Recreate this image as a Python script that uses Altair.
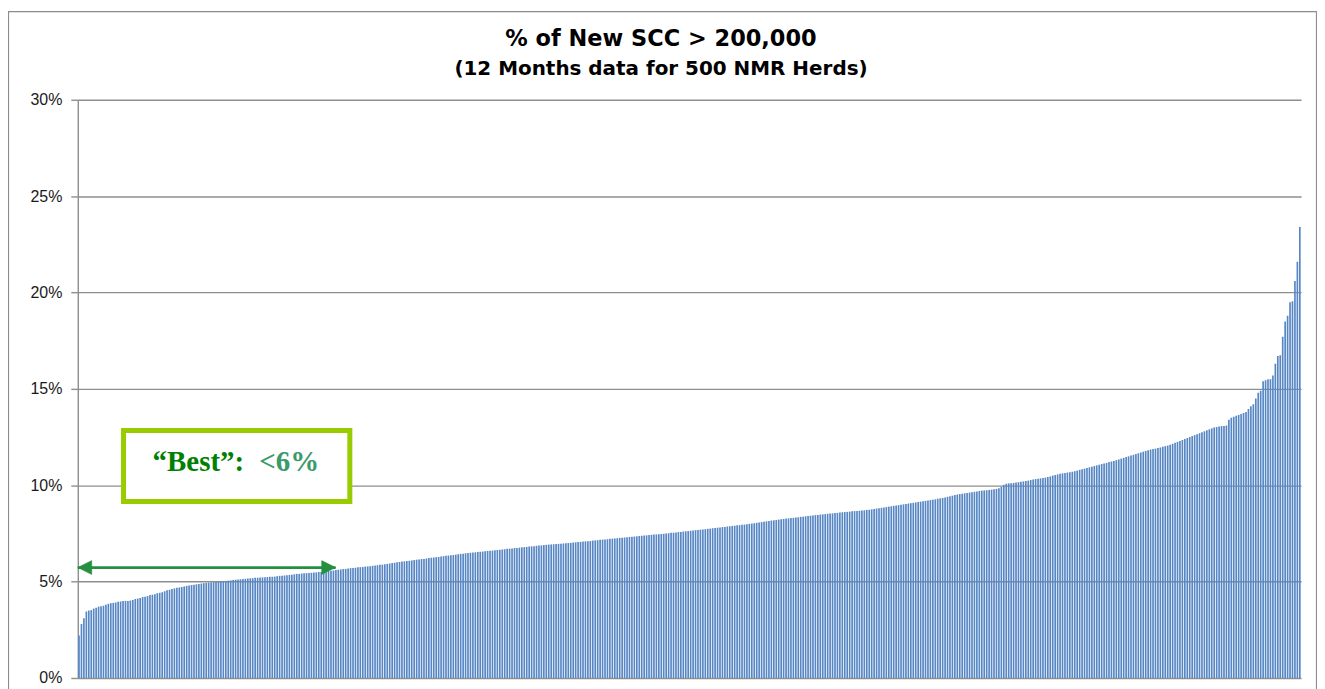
import altair as alt
import pandas as pd

TITLE = "% of New SCC > 200,000"
SUBTITLE = "(12 Months  data for 500 NMR Herds)"
Y_TICKS = [0, 5, 10, 15, 20, 25, 30]
BEST_LABEL = "\u201cBest\u201d:"
BEST_VALUE = "<6%"

# % of new SCC > 200,000 for 500 herds, sorted ascending
PCT_NEW_SCC = [
    2.2, 2.8, 3.1, 3.45, 3.5, 3.52, 3.6, 3.65, 3.7, 3.72, 3.75, 3.8, 3.85, 3.88, 3.9, 3.92, 3.95, 3.97, 4.0, 4.0,
    4.0, 4.02, 4.05, 4.1, 4.12, 4.15, 4.2, 4.22, 4.25, 4.3, 4.32, 4.35, 4.4, 4.42, 4.45, 4.5, 4.55, 4.58, 4.62, 4.65,
    4.68, 4.7, 4.72, 4.75, 4.78, 4.8, 4.82, 4.84, 4.86, 4.88, 4.9, 4.92, 4.93, 4.95, 4.96, 4.97, 4.98, 5.0, 5.0, 5.02,
    5.03, 5.05, 5.06, 5.08, 5.1, 5.11, 5.12, 5.14, 5.15, 5.16, 5.17, 5.18, 5.2, 5.2, 5.21, 5.22, 5.23, 5.24, 5.25, 5.25,
    5.26, 5.28, 5.3, 5.3, 5.32, 5.33, 5.35, 5.36, 5.38, 5.4, 5.4, 5.42, 5.43, 5.44, 5.45, 5.46, 5.47, 5.48, 5.5, 5.5,
    5.52, 5.54, 5.55, 5.57, 5.58, 5.6, 5.62, 5.63, 5.65, 5.66, 5.68, 5.7, 5.71, 5.72, 5.74, 5.75, 5.76, 5.78, 5.79, 5.8,
    5.82, 5.84, 5.85, 5.87, 5.88, 5.9, 5.92, 5.94, 5.96, 5.98, 6.0, 6.02, 6.04, 6.05, 6.07, 6.08, 6.1, 6.12, 6.14, 6.15,
    6.17, 6.18, 6.2, 6.22, 6.24, 6.25, 6.27, 6.28, 6.3, 6.32, 6.34, 6.35, 6.37, 6.38, 6.4, 6.42, 6.44, 6.45, 6.47, 6.48,
    6.5, 6.51, 6.52, 6.54, 6.55, 6.56, 6.58, 6.59, 6.6, 6.61, 6.63, 6.64, 6.65, 6.67, 6.68, 6.7, 6.71, 6.72, 6.74, 6.75,
    6.76, 6.78, 6.79, 6.8, 6.82, 6.83, 6.84, 6.86, 6.87, 6.88, 6.9, 6.91, 6.92, 6.93, 6.94, 6.95, 6.96, 6.97, 6.98, 6.99,
    7.0, 7.01, 7.03, 7.04, 7.05, 7.06, 7.08, 7.09, 7.1, 7.11, 7.13, 7.14, 7.15, 7.17, 7.18, 7.19, 7.2, 7.22, 7.23, 7.24,
    7.25, 7.27, 7.28, 7.29, 7.3, 7.32, 7.33, 7.34, 7.35, 7.37, 7.38, 7.39, 7.4, 7.42, 7.43, 7.44, 7.45, 7.46, 7.47, 7.48,
    7.5, 7.51, 7.53, 7.54, 7.55, 7.57, 7.58, 7.6, 7.61, 7.62, 7.64, 7.65, 7.67, 7.68, 7.7, 7.71, 7.72, 7.74, 7.75, 7.77,
    7.78, 7.8, 7.81, 7.83, 7.84, 7.86, 7.87, 7.89, 7.9, 7.92, 7.93, 7.95, 7.96, 7.98, 8.0, 8.01, 8.03, 8.05, 8.07, 8.09,
    8.11, 8.13, 8.15, 8.17, 8.18, 8.2, 8.22, 8.23, 8.25, 8.27, 8.28, 8.3, 8.31, 8.33, 8.34, 8.36, 8.37, 8.39, 8.4, 8.42,
    8.43, 8.45, 8.46, 8.48, 8.49, 8.5, 8.52, 8.53, 8.54, 8.56, 8.57, 8.58, 8.6, 8.61, 8.62, 8.63, 8.65, 8.66, 8.67, 8.68,
    8.69, 8.7, 8.72, 8.73, 8.75, 8.77, 8.79, 8.81, 8.83, 8.85, 8.87, 8.89, 8.91, 8.93, 8.95, 8.97, 8.99, 9.01, 9.03, 9.05,
    9.07, 9.09, 9.11, 9.13, 9.15, 9.17, 9.19, 9.21, 9.23, 9.25, 9.27, 9.3, 9.32, 9.34, 9.37, 9.4, 9.43, 9.46, 9.49, 9.52,
    9.54, 9.56, 9.58, 9.6, 9.62, 9.64, 9.66, 9.68, 9.7, 9.72, 9.73, 9.74, 9.75, 9.77, 9.79, 9.81, 9.85, 9.92, 10.02, 10.08,
    10.1, 10.1, 10.12, 10.14, 10.16, 10.18, 10.2, 10.22, 10.24, 10.27, 10.3, 10.32, 10.34, 10.36, 10.38, 10.4, 10.43, 10.46, 10.5, 10.53,
    10.56, 10.6, 10.62, 10.64, 10.66, 10.68, 10.7, 10.73, 10.76, 10.8, 10.83, 10.86, 10.9, 10.93, 10.96, 11.0, 11.03, 11.06, 11.1, 11.13,
    11.16, 11.2, 11.23, 11.26, 11.3, 11.34, 11.38, 11.42, 11.46, 11.5, 11.54, 11.58, 11.62, 11.66, 11.7, 11.74, 11.78, 11.82, 11.85, 11.88,
    11.9, 11.93, 11.96, 12.0, 12.03, 12.06, 12.1, 12.15, 12.2, 12.25, 12.3, 12.35, 12.4, 12.45, 12.5, 12.55, 12.6, 12.65, 12.7, 12.75,
    12.8, 12.85, 12.9, 12.95, 13.0, 13.02, 13.05, 13.07, 13.08, 13.1, 13.4, 13.5, 13.55, 13.6, 13.65, 13.7, 13.75, 13.8, 13.95, 14.1,
    14.2, 14.5, 14.8, 14.9, 15.4, 15.45, 15.5, 15.5, 15.7, 16.3, 16.7, 16.75, 17.7, 18.5, 18.8, 19.5, 19.55, 20.6, 21.6, 23.4,
]

# annotation positions, in data units (herd rank, %)
ARROW_FROM = [0.5]
ARROW_TO = [105.9]
ARROW_LEVEL = [5.73]
BOX_X = [19.2]
BOX_X2 = [111.7]
BOX_Y = [12.84]
BOX_Y2 = [9.16]
LABEL_X = [68.5]
VALUE_X = [74.7]
LABEL_Y = [10.76]

df = pd.DataFrame({"rank": list(range(1, len(PCT_NEW_SCC) + 1)), "pct": PCT_NEW_SCC})

W, H = 1227, 580
xs = alt.Scale(domain=[0.5, 500.5], nice=False, zero=False)
ys = alt.Scale(domain=[0, 30], nice=False)

GREEN = "#24903f"

Y_AXIS = alt.Axis(
    values=Y_TICKS,
    labelExpr="datum.value + '%'",
    title=None,
    grid=True,
    gridColor="#8e8e8e",
    gridWidth=1.4,
    domainColor="#8e8e8e",
    domainWidth=1.4,
    tickColor="#8e8e8e",
    tickSize=7,
    tickWidth=1.4,
    labelFont="Liberation Sans",
    labelFontSize=16,
    labelColor="#1a1a1a",
    labelPadding=9,
)


def yenc(field):
    return alt.Y(field, scale=ys, axis=Y_AXIS, title=None)


def xenc(field):
    return alt.X(field, scale=xs, axis=None, title=None)


bars = (
    alt.Chart(df)
    .transform_calculate(x0="datum.rank - 0.34", x1="datum.rank + 0.34")
    .mark_bar(color="#5686c4")
    .encode(x=xenc("x0:Q"), x2="x1:Q", y=yenc("pct:Q"), y2=alt.datum(0))
)

arrow_df = pd.DataFrame({"a": ARROW_FROM, "b": ARROW_TO, "y": ARROW_LEVEL})
arrow_line = alt.Chart(arrow_df).mark_rule(color=GREEN, strokeWidth=2.8).encode(
    x=xenc("a:Q"), x2="b:Q", y=yenc("y:Q")
)
head_left = alt.Chart(arrow_df).mark_point(
    shape="M0,0L2,-1L2,1Z", filled=True, fill=GREEN, stroke=GREEN, strokeWidth=0.5, opacity=1, size=196
).encode(x=xenc("a:Q"), y=yenc("y:Q"))
head_right = alt.Chart(arrow_df).mark_point(
    shape="M0,0L-2,-1L-2,1Z", filled=True, fill=GREEN, stroke=GREEN, strokeWidth=0.5, opacity=1, size=196
).encode(x=xenc("b:Q"), y=yenc("y:Q"))

box_df = pd.DataFrame({"x": BOX_X, "x2": BOX_X2, "y": BOX_Y, "y2": BOX_Y2})
box = alt.Chart(box_df).mark_rect(fill="white", stroke="#99cc00", strokeWidth=5).encode(
    x=xenc("x:Q"), x2="x2:Q", y=yenc("y:Q"), y2="y2:Q"
)

lab_df = pd.DataFrame({"x": LABEL_X, "xv": VALUE_X, "y": LABEL_Y, "t": [BEST_LABEL], "v": [BEST_VALUE]})
label = alt.Chart(lab_df).mark_text(
    font="Liberation Serif", fontWeight="bold", fontSize=29, color="#008000", align="right", baseline="alphabetic"
).encode(x=xenc("x:Q"), y=yenc("y:Q"), text="t:N")
value = alt.Chart(lab_df).mark_text(
    font="Liberation Serif", fontWeight="bold", fontSize=29, color="#3a9a6c", align="left", baseline="alphabetic"
).encode(x=xenc("xv:Q"), y=yenc("y:Q"), text="v:N")

# chart frame and titles (placed in pixels around the plot area)
title_df = pd.DataFrame({"t": [TITLE], "s": [SUBTITLE]})
title_mark = alt.Chart(title_df).mark_text(
    font="DejaVu Sans", fontWeight="bold", fontSize=22.5, color="#000000", align="center", baseline="alphabetic"
).encode(x=alt.value(585), y=alt.value(-54), text="t:N")
subtitle_mark = alt.Chart(title_df).mark_text(
    font="DejaVu Sans", fontWeight="bold", fontSize=20, color="#000000", align="center", baseline="alphabetic"
).encode(x=alt.value(585), y=alt.value(-25), text="s:N")

border = alt.Chart(arrow_df).mark_rect(
    fillOpacity=0, fill="white", stroke="#8c8c8c", strokeWidth=1.2
).encode(
    x=alt.value(-69.5), x2=alt.value(1242.5), y=alt.value(-88.5), y2=alt.value(620)
)

chart = (
    alt.layer(bars, arrow_line, head_left, head_right, box, label, value, title_mark, subtitle_mark, border)
    .properties(
        width=W,
        height=H,
        autosize=alt.AutoSizeParams(type="none"),
        padding={"left": 70, "top": 91, "right": 16, "bottom": 10},
    )
    .configure(background="white", view=alt.ViewConfig(stroke="transparent"))
)

chart.save("out.html", embed_options={"renderer": "svg", "actions": False})
